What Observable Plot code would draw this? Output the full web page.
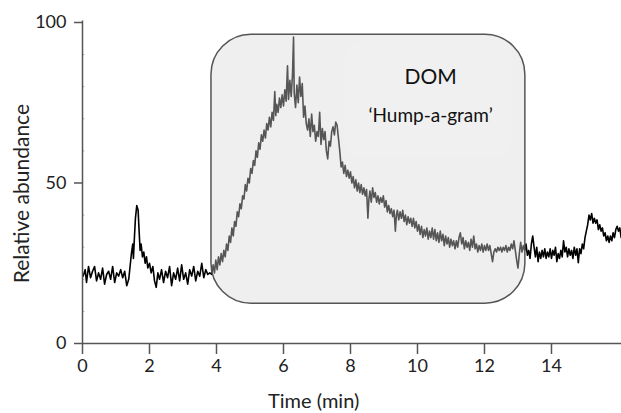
<!DOCTYPE html>
<html><head><meta charset="utf-8">
<script src="https://cdn.jsdelivr.net/npm/d3@7"></script>
<script src="https://cdn.jsdelivr.net/npm/@observablehq/plot@0.6"></script>
<style>body{margin:0;background:#fff}</style>
</head><body><div id="chart"></div>
<script>
// Retention time (min)
const time = [
0.02,0.08,0.12,0.18,0.24,0.3,0.36,0.42,0.48,0.54,0.6,0.66,0.72,0.78,0.84,0.9,0.96,1.02,1.08,1.14,1.2,1.26,1.32,1.38,
1.42,1.46,1.5,1.52,1.55,1.58,1.62,1.66,1.69,1.72,1.75,1.79,1.83,1.87,1.91,1.95,2.0,2.05,2.1,2.15,2.2,2.25,2.3,2.36,2.42,2.48,2.54,2.6,2.66,2.72,2.78,2.84,2.9,2.96,3.02,3.08,3.14,3.2,3.26,3.32,3.38,3.44,3.5,3.56,3.62,3.68,3.74,3.8,
3.86,3.9,3.94,3.98,4.02,4.06,4.1,4.14,4.18,4.22,4.26,4.3,4.34,4.38,4.42,4.46,4.5,4.54,4.58,4.62,4.66,4.7,4.74,4.78,4.82,4.86,4.9,4.94,4.98,5.02,5.06,5.1,5.14,5.18,5.22,5.26,5.3,5.34,5.38,5.42,5.46,5.5,5.54,5.58,5.62,5.66,5.7,5.74,5.77,5.8,5.84,5.88,5.92,5.96,6.0,6.04,6.08,6.12,6.15,6.19,6.23,6.27,6.3,6.32,6.36,6.4,6.44,6.48,6.52,6.56,6.6,6.64,6.68,6.72,
6.76,6.8,6.84,6.88,6.92,6.96,7.0,7.04,7.08,7.12,7.16,7.2,7.24,7.28,7.32,7.36,7.4,7.44,7.48,7.52,7.56,7.6,7.64,7.68,7.72,7.76,7.8,7.84,7.88,7.92,7.96,8.0,8.04,8.08,8.12,8.16,8.2,8.24,8.28,8.32,8.36,8.4,8.44,8.48,8.52,8.55,8.58,8.62,8.66,8.7,8.74,8.78,8.82,8.86,8.9,8.94,8.98,9.02,9.06,9.1,9.14,9.18,9.22,9.26,9.3,9.34,9.37,9.4,9.44,9.48,9.52,9.56,9.6,9.64,9.68,9.72,9.76,9.8,
9.84,9.88,9.92,9.96,10.0,10.04,10.08,10.12,10.16,10.2,10.24,10.28,10.32,10.36,10.4,10.44,10.48,10.52,10.56,10.6,10.64,10.68,10.72,10.76,10.8,10.84,10.88,10.92,10.96,11.0,11.04,11.08,11.12,11.16,11.2,11.24,11.28,11.32,11.36,11.4,11.44,11.48,11.52,11.56,11.6,11.64,11.68,11.72,11.76,11.8,11.84,11.88,11.92,11.96,12.0,12.04,12.08,12.12,12.16,12.2,12.24,12.28,12.32,12.36,12.4,12.44,12.48,12.52,12.56,12.6,12.64,12.68,12.72,12.76,12.8,12.84,12.88,12.92,12.96,13.0,13.04,13.08,13.12,13.16,13.2,
13.24,13.28,13.32,13.36,13.4,13.44,13.48,13.52,13.56,13.6,13.64,13.68,13.72,13.76,13.8,13.84,13.88,13.92,13.96,14.0,14.04,14.08,14.12,14.16,14.2,14.24,14.28,14.32,14.36,14.4,14.44,14.48,14.52,14.56,14.6,14.64,14.68,14.72,14.76,14.8,14.84,14.88,14.92,14.96,15.0,15.04,15.08,15.12,15.16,15.2,15.24,15.28,15.32,15.36,15.4,15.44,15.48,15.52,15.56,15.6,15.64,15.68,15.72,15.76,15.8,15.84,15.88,15.92,15.96,16.0,16.04,16.08
];
// Relative abundance
const abundance = [
21,23,19,24,20.5,22.5,24,19.5,22,20,23.5,18.5,21.5,22.5,20,24,19,22,21,23,20.5,22.5,18,20,
24,28,31,26.5,33,39,43,41.5,35,29,31,27,28.5,25,27,23.5,25,22,24,19.5,17.5,22,20,23,19,22.5,20.5,24,18,22,20,23.5,19.5,24.5,20,22,18.5,23,21,24,19.5,22.5,21,25,20.5,23,21.5,22,
21.5,24.5,22,26,23,27,24.5,28,25.5,29,27,31,29,33.5,31.5,36,33.5,38,36.5,41,39.5,43.5,42,46,45,49.5,47.5,51.5,50,54.5,53,57,55.5,60,58,62.5,60.5,65,63,66.5,64,68.5,66.5,70.5,67.5,72,69.5,78.5,71,74.5,72,76.5,73.5,77.5,74,79,75.5,86.5,76,82,77,84,95.5,78,73.5,80.5,75,83,77,81,70.5,74,68.5,66.5,
70,64.5,71.5,66,68,63,66,64.5,72,62,67,63.5,66,60,57.5,63,61.5,66,67.5,65,69,68,64,60,55,56.5,53,55.5,52,54,51.5,53.5,50,52,48.5,51,47.5,50,47,49.5,46.5,48.5,46,48,39,45,47.5,44,48.5,45.5,47,44,46,43.5,45.5,44,46,42.5,44.5,41,43,40.5,42,39.5,41.5,35,40,41.5,38.5,41,39,41.5,38,40,37,39.5,37.5,39,
36.5,39,36,38,35,37,34,36.5,33,35.5,33.5,36,32.5,35,33,36,32.5,35.5,32,34.5,31.5,35,32,34,30.5,33.5,31,33,30,32.5,30.5,32,29.5,32,30,33,34.5,31,33,29.5,32,30,31.5,29,32.5,30,33.5,29.5,31,28.5,30.5,29,31,28.5,30.5,29,31,29,30.5,28,25.5,28.5,29.5,28.5,30,29,30,28.5,30,29,30.5,28.5,30,29,31,29.5,32,29,26,23.5,28,31.5,28.5,30.5,29,
31,27.5,29,26.5,31,33.5,30,27,30,25.5,28.5,26.5,29,27,29.5,26.5,28.5,27,29.5,26.5,29,27.5,30,25.5,28,26.5,29,27,32,28.5,30,27,29.5,27.5,29,26.5,30,27.5,29.5,25.2,29.5,28,31,29.5,33,35,37,40,38.5,40.5,37.5,39,37.5,38.5,35.5,37,35,36,33.5,34.5,32,33.5,31.5,33.5,32,34.5,33,35.5,36.5,35,36,33
];
const xTicks = [0, 2, 4, 6, 8, 10, 12, 14];
const yTicks = [0, 50, 100];
const minorY = [10, 20, 30, 40, 60, 70, 80, 90];
const boxX = [3.85, 13.22];
const boxY = [12.4, 96.2];
const innerX = [7.85, 12.87];
const innerY = [57.9, 94.3];
const labels = ["DOM", "\u2018Hump-a-gram\u2019"];
const labelX = [10.39, 10.39];
const labelY = [82.8, 71];
const xTitle = "Time (min)";
const yTitle = "Relative abundance";

const trace = time.map((t, i) => ({t, a: abundance[i]}));

const chart = Plot.plot({
  width: 621,
  height: 413,
  marginLeft: 82,
  marginRight: 0,
  marginTop: 22,
  marginBottom: 70,
  style: {fontFamily: "Lato, sans-serif", background: "#fff", overflow: "visible"},
  x: {domain: [0, 16.09]},
  y: {domain: [0, 100]},
  marks: [
    Plot.ruleY(minorY, {x1: 0, x2: 0.07, stroke: "#aaa", strokeWidth: 1}),
    Plot.line(trace, {x: "t", y: "a", stroke: "#000", strokeWidth: 1.6}),
    Plot.rect([0], {x1: () => boxX[0], x2: () => boxX[1], y1: () => boxY[0], y2: () => boxY[1],
      fill: "rgb(215,215,215)", fillOpacity: 0.4, stroke: "#555", strokeWidth: 1.5, rx: 40}),
    Plot.rect([0], {x1: () => innerX[0], x2: () => innerX[1], y1: () => innerY[0], y2: () => innerY[1],
      fill: "#fff", fillOpacity: 0.1, rx: 20}),
    Plot.text([0], {x: () => labelX[0], y: () => labelY[0], text: () => labels[0], fontSize: 21, fill: "#111"}),
    Plot.text([0], {x: () => labelX[1], y: () => labelY[1], text: () => labels[1], fontSize: 19, fill: "#111"}),
    Plot.axisX({ticks: xTicks, tickSize: 11, tickPadding: 5, label: null, fontSize: 18, stroke: "#555", fill: "#222", strokeWidth: 1.5}),
    Plot.axisY({ticks: yTicks, tickSize: 8, tickPadding: 8, label: null, fontSize: 18, stroke: "#555", fill: "#222", strokeWidth: 1.5}),
    Plot.ruleY([0], {stroke: "#555", strokeWidth: 1.5}),
    Plot.ruleX([0], {stroke: "#555", strokeWidth: 1.5, y1: 0, y2: 100.5}),
    Plot.text([0], {x: () => 6.9, y: () => 0, dy: 58, text: () => xTitle, fontSize: 20, fill: "#222"}),
    Plot.text([0], {frameAnchor: "left", textAnchor: "middle", dx: -60, y: () => 46.7, rotate: -90, text: () => yTitle, fontSize: 21, fill: "#222"})
  ]
});
document.getElementById("chart").appendChild(chart);
</script></body></html>
